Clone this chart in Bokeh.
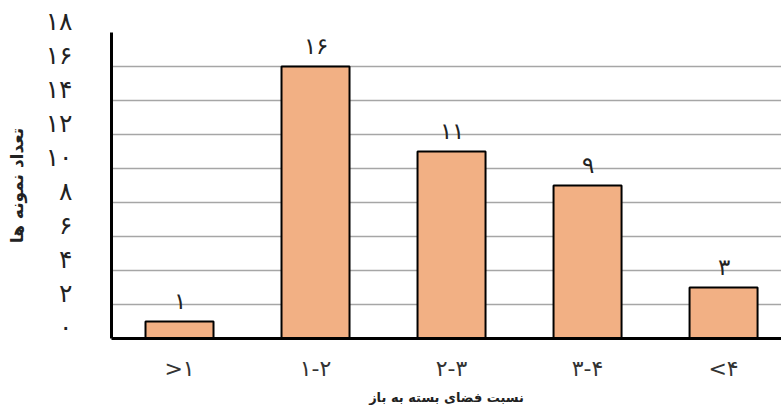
from bokeh.plotting import figure
from bokeh.models import ColumnDataSource, FixedTicker, Range1d, LabelSet
from bokeh.embed import file_html
from bokeh.resources import INLINE

categories = [">۱", "۱-۲", "۲-۳", "۳-۴", "<۴"]
counts = [1, 16, 11, 9, 3]
count_labels = ["۱", "۱۶", "۱۱", "۹", "۳"]
y_ticks = [0, 2, 4, 6, 8, 10, 12, 14, 16, 18]
y_tick_labels = ["۰", "۲", "۴", "۶", "۸", "۱۰", "۱۲", "۱۴", "۱۶", "۱۸"]
x_title = "نسبت فضای بسته به باز"
y_title = "تعداد نمونه ها"

xs = list(range(len(categories)))
src = ColumnDataSource(dict(x=xs, top=counts, lab=count_labels))

FONT = "DejaVu Sans"

p = figure(width=781, height=409, output_backend="svg", toolbar_location=None,
           x_range=Range1d(-0.5, 4.426), y_range=Range1d(0, 18),
           min_border_left=111, min_border_right=0, min_border_top=32, min_border_bottom=71)
p.outline_line_color = None
p.background_fill_color = "white"

p.vbar(x="x", top="top", width=0.5, source=src, fill_color="#F2B084",
       line_color="black", line_width=2)

labels = LabelSet(x="x", y="top", text="lab", source=src, text_align="center",
                  text_baseline="bottom", y_offset=8, text_font=FONT,
                  text_font_size="23px", text_color="#222222")
p.add_layout(labels)

p.xgrid.grid_line_color = None
p.ygrid.grid_line_color = "#A6A6A6"
p.ygrid.grid_line_width = 1.5
p.ygrid.ticker = FixedTicker(ticks=y_ticks)

# trailing empty line lifts each label to sit just above its gridline
p.yaxis.ticker = FixedTicker(ticks=y_ticks)
p.yaxis.major_label_overrides = {t: l + "\n" for t, l in zip(y_ticks, y_tick_labels)}
p.yaxis.major_label_text_line_height = 0.75
p.yaxis.axis_line_width = 3
p.yaxis.axis_line_color = "black"
p.yaxis.major_tick_line_color = None
p.yaxis.minor_tick_line_color = None
p.yaxis.major_label_standoff = 33
p.yaxis.major_label_text_font = FONT
p.yaxis.major_label_text_font_size = "25px"
p.yaxis.major_label_text_color = "#222222"
p.yaxis.axis_label = y_title
p.yaxis.axis_label_text_font = FONT
p.yaxis.axis_label_text_font_size = "17px"
p.yaxis.axis_label_text_font_style = "bold"
p.yaxis.axis_label_text_color = "#222222"
p.yaxis.axis_label_standoff = 16

p.xaxis.ticker = FixedTicker(ticks=xs)
p.xaxis.major_label_overrides = {x: c for x, c in zip(xs, categories)}
p.xaxis.axis_line_width = 3
p.xaxis.axis_line_color = "black"
p.xaxis.major_tick_line_color = None
p.xaxis.minor_tick_line_color = None
p.xaxis.major_label_standoff = 11
p.xaxis.major_label_text_font = FONT
p.xaxis.major_label_text_font_size = "22px"
p.xaxis.major_label_text_color = "#333333"
p.xaxis.axis_label = x_title
p.xaxis.axis_label_text_font = FONT
p.xaxis.axis_label_text_font_size = "13px"
p.xaxis.axis_label_text_font_style = "bold"
p.xaxis.axis_label_text_color = "#222222"
p.xaxis.axis_label_standoff = 6

open("out.html", "w").write(file_html(p, INLINE))
